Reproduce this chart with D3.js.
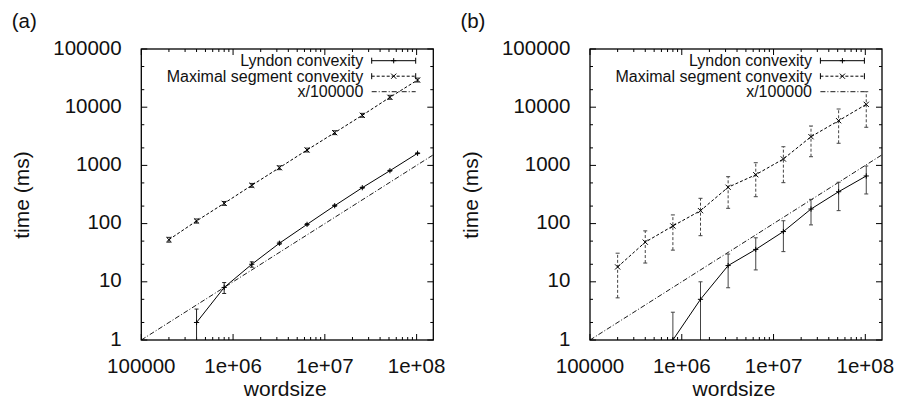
<!DOCTYPE html>
<html>
<head>
<meta charset="utf-8">
<script src="https://cdn.jsdelivr.net/npm/d3@7"></script>
<style>
  html, body { margin: 0; padding: 0; background: #fff; }
  svg { display: block; font-family: "Liberation Sans", Arial, Helvetica, sans-serif; }
</style>
</head>
<body>
<div id="chart"></div>
<script>
// word sizes used in both runs
const wordsize = [200000, 400000, 800000, 1600000, 3200000, 6400000, 12800000, 25600000, 51200000, 102400000];

// (a) timings, ms
const lyndonA   = [null, 2,   8,   20,   46, 97,  203, 414, 811, 1615];
const lyndonALo = [null, 0.5, 6.3, 17.8, 44, 94,  197, 405, 795, 1590];
const lyndonAHi = [null, 3.4, 9.7, 22,   48, 100, 209, 423, 827, 1640];
const maxsegA   = [53, 111, 223, 455, 913, 1840, 3650, 7260, 14800, 29300];
const maxsegALo = [48, 102, 206, 420, 845, 1700, 3380, 6720, 13700, 27100];
const maxsegAHi = [58, 120, 240, 490, 980, 1980, 3940, 7840, 16000, 31600];

// (b) timings, ms
const lyndonB   = [null, null, 1,   5,   19,  36, 73,  178, 353, 658];
const lyndonBLo = [null, null, 0.3, 0.5, 7.9, 16, 33,  95,  167, 323];
const lyndonBHi = [null, null, 3,   10,  30,  57, 112, 261, 513, 977];
const maxsegB   = [18,  48, 91,  167, 421, 692,  1288, 3112, 5860, 11200];
const maxsegBLo = [5.3, 21, 35,  62,  183, 290,  505,  1410, 2400, 4520];
const maxsegBHi = [31,  75, 141, 272, 640, 1112, 2094, 4750, 9310, 18470];

const xTicks = [1e5, 1e6, 1e7, 1e8];
const xTickLabels = ["100000", "1e+06", "1e+07", "1e+08"];
const yTicks = [1, 10, 100, 1000, 10000, 100000];
const yTickLabels = ["1", "10", "100", "1000", "10000", "100000"];
const legendNames = ["Lyndon convexity", "Maximal segment convexity", "x/100000"];
const panelNames = ["(a)", "(b)"];

const W = 898, H = 403;
const PW = 292, PH = 291, TOP = 49;
const panelLeft = [141.3, 590];

const svg = d3.select("#chart").append("svg").attr("width", W).attr("height", H);

// log minor ticks: x at 2..9, y at 2 and 5
function minorTicks(lo, hi, mults) {
  const out = [];
  for (let d = 1; d <= hi * 10; d *= 10) mults.forEach(m => { const v = d * m; if (v > lo && v < hi) out.push(v); });
  return out;
}

function drawPanel(i, series) {
  const x0 = panelLeft[i];
  const x = d3.scaleLog().domain([1e5, 1.52e8]).range([x0, x0 + PW]);
  const y = d3.scaleLog().domain([1, 1e5]).range([TOP + PH, TOP]);
  const g = svg.append("g");

  const clipId = "clip" + i;
  svg.append("clipPath").attr("id", clipId).append("rect")
    .attr("x", x0).attr("y", TOP).attr("width", PW).attr("height", PH);

  // ticks on all four sides, pointing inward
  const tg = g.append("g").attr("stroke", "#000").attr("stroke-width", 1);
  const xMin = minorTicks(1e5, 1.52e8, [2, 3, 4, 5, 6, 7, 8, 9]);
  const yMin = minorTicks(1, 1e5, [2, 5]);
  xTicks.forEach(v => {
    tg.append("line").attr("x1", x(v)).attr("x2", x(v)).attr("y1", TOP + PH).attr("y2", TOP + PH - 6);
    tg.append("line").attr("x1", x(v)).attr("x2", x(v)).attr("y1", TOP).attr("y2", TOP + 6);
  });
  xMin.forEach(v => {
    tg.append("line").attr("x1", x(v)).attr("x2", x(v)).attr("y1", TOP + PH).attr("y2", TOP + PH - 3);
    tg.append("line").attr("x1", x(v)).attr("x2", x(v)).attr("y1", TOP).attr("y2", TOP + 3);
  });
  yTicks.forEach(v => {
    tg.append("line").attr("x1", x0).attr("x2", x0 + 6).attr("y1", y(v)).attr("y2", y(v));
    tg.append("line").attr("x1", x0 + PW).attr("x2", x0 + PW - 6).attr("y1", y(v)).attr("y2", y(v));
  });
  yMin.forEach(v => {
    tg.append("line").attr("x1", x0).attr("x2", x0 + 3).attr("y1", y(v)).attr("y2", y(v));
    tg.append("line").attr("x1", x0 + PW).attr("x2", x0 + PW - 3).attr("y1", y(v)).attr("y2", y(v));
  });

  // tick labels
  g.append("g").selectAll("text").data(xTicks).join("text")
    .attr("x", d => x(d)).attr("y", TOP + PH + 32.7)
    .attr("text-anchor", "middle").attr("font-size", 20.5).attr("fill", "#111")
    .text((d, k) => xTickLabels[k]);
  g.append("g").selectAll("text").data(yTicks).join("text")
    .attr("x", x0 - 19.6).attr("y", d => y(d) + 5.5)
    .attr("text-anchor", "end").attr("font-size", 20.5).attr("fill", "#111")
    .text((d, k) => yTickLabels[k]);

  // axis titles + panel tag
  g.append("text").attr("x", x0 + PW / 2 - 2).attr("y", 396)
    .attr("text-anchor", "middle").attr("font-size", 21).attr("fill", "#111").text("wordsize");
  g.append("text").attr("transform", `translate(${x0 - 112.3},195) rotate(-90)`)
    .attr("text-anchor", "middle").attr("font-size", 21).attr("fill", "#111").text("time (ms)");
  g.append("text").attr("x", x0 - 129.6).attr("y", 27.5)
    .attr("font-size", 20.5).attr("fill", "#111").text(panelNames[i]);

  const data = g.append("g").attr("clip-path", `url(#${clipId})`);

  // x/100000 reference
  const refXs = x.domain();
  data.append("path")
    .attr("d", d3.line().x(d => x(d)).y(d => y(d / 100000))(refXs))
    .attr("fill", "none").attr("stroke", "#000").attr("stroke-width", 0.9)
    .attr("stroke-dasharray", "5,2,1,2");

  series.forEach(s => {
    const pts = wordsize.map((w, k) => ({ w, v: s.v[k], lo: s.lo[k], hi: s.hi[k] })).filter(p => p.v != null);
    data.append("path")
      .attr("d", d3.line().x(p => x(p.w)).y(p => y(p.v))(pts))
      .attr("fill", "none").attr("stroke", "#000").attr("stroke-width", 1)
      .attr("stroke-dasharray", s.dash);
    const eb = data.append("g").attr("stroke", s.barColor).attr("stroke-width", 1).attr("fill", "none");
    pts.forEach(p => {
      const px = x(p.w);
      eb.append("line").attr("x1", px).attr("x2", px).attr("y1", y(p.lo)).attr("y2", y(p.hi))
        .attr("stroke-dasharray", s.dash);
      [p.lo, p.hi].forEach(e => eb.append("line").attr("x1", px - 2).attr("x2", px + 2).attr("y1", y(e)).attr("y2", y(e)));
      drawMarker(data, s.marker, px, y(p.v));
    });
  });

  // legend
  const lg = g.append("g");
  const tx = x0 + 222, sx0 = x0 + 230.4, sx1 = x0 + 274.4;
  legendNames.forEach((name, k) => {
    const ly = 60.7 + k * 15.5;
    lg.append("text").attr("x", tx).attr("y", ly + 5.5).attr("text-anchor", "end")
      .attr("font-size", 16).attr("fill", "#111").text(name);
    const dash = k === 0 ? null : k === 1 ? "3,2" : "5,2,1,2";
    lg.append("line").attr("x1", sx0).attr("x2", sx1).attr("y1", ly).attr("y2", ly)
      .attr("stroke", "#000").attr("stroke-width", k === 2 ? 0.9 : 1).attr("stroke-dasharray", dash);
    if (k < 2) {
      [sx0, sx1].forEach(ex => lg.append("line").attr("x1", ex).attr("x2", ex).attr("y1", ly - 3).attr("y2", ly + 3)
        .attr("stroke", "#000").attr("stroke-width", 1));
      drawMarker(lg, k === 0 ? "plus" : "cross", (sx0 + sx1) / 2, ly);
    }
  });

  // frame
  g.append("rect").attr("x", x0).attr("y", TOP).attr("width", PW).attr("height", PH)
    .attr("fill", "none").attr("stroke", "#000").attr("stroke-width", 1.3);
}

function drawMarker(sel, type, cx, cy) {
  const r = 2.6;
  const p = type === "plus"
    ? `M${cx - r},${cy}H${cx + r}M${cx},${cy - r}V${cy + r}`
    : `M${cx - r},${cy - r}L${cx + r},${cy + r}M${cx - r},${cy + r}L${cx + r},${cy - r}`;
  sel.append("path").attr("d", p).attr("stroke", "#000").attr("stroke-width", 1).attr("fill", "none");
}

drawPanel(0, [
  { v: lyndonA, lo: lyndonALo, hi: lyndonAHi, dash: null, barColor: "#222", marker: "plus" },
  { v: maxsegA, lo: maxsegALo, hi: maxsegAHi, dash: "3,2", barColor: "#222", marker: "cross" }
]);
drawPanel(1, [
  { v: lyndonB, lo: lyndonBLo, hi: lyndonBHi, dash: null, barColor: "#444", marker: "plus" },
  { v: maxsegB, lo: maxsegBLo, hi: maxsegBHi, dash: "3,2", barColor: "#444", marker: "cross" }
]);
</script>
</body>
</html>
